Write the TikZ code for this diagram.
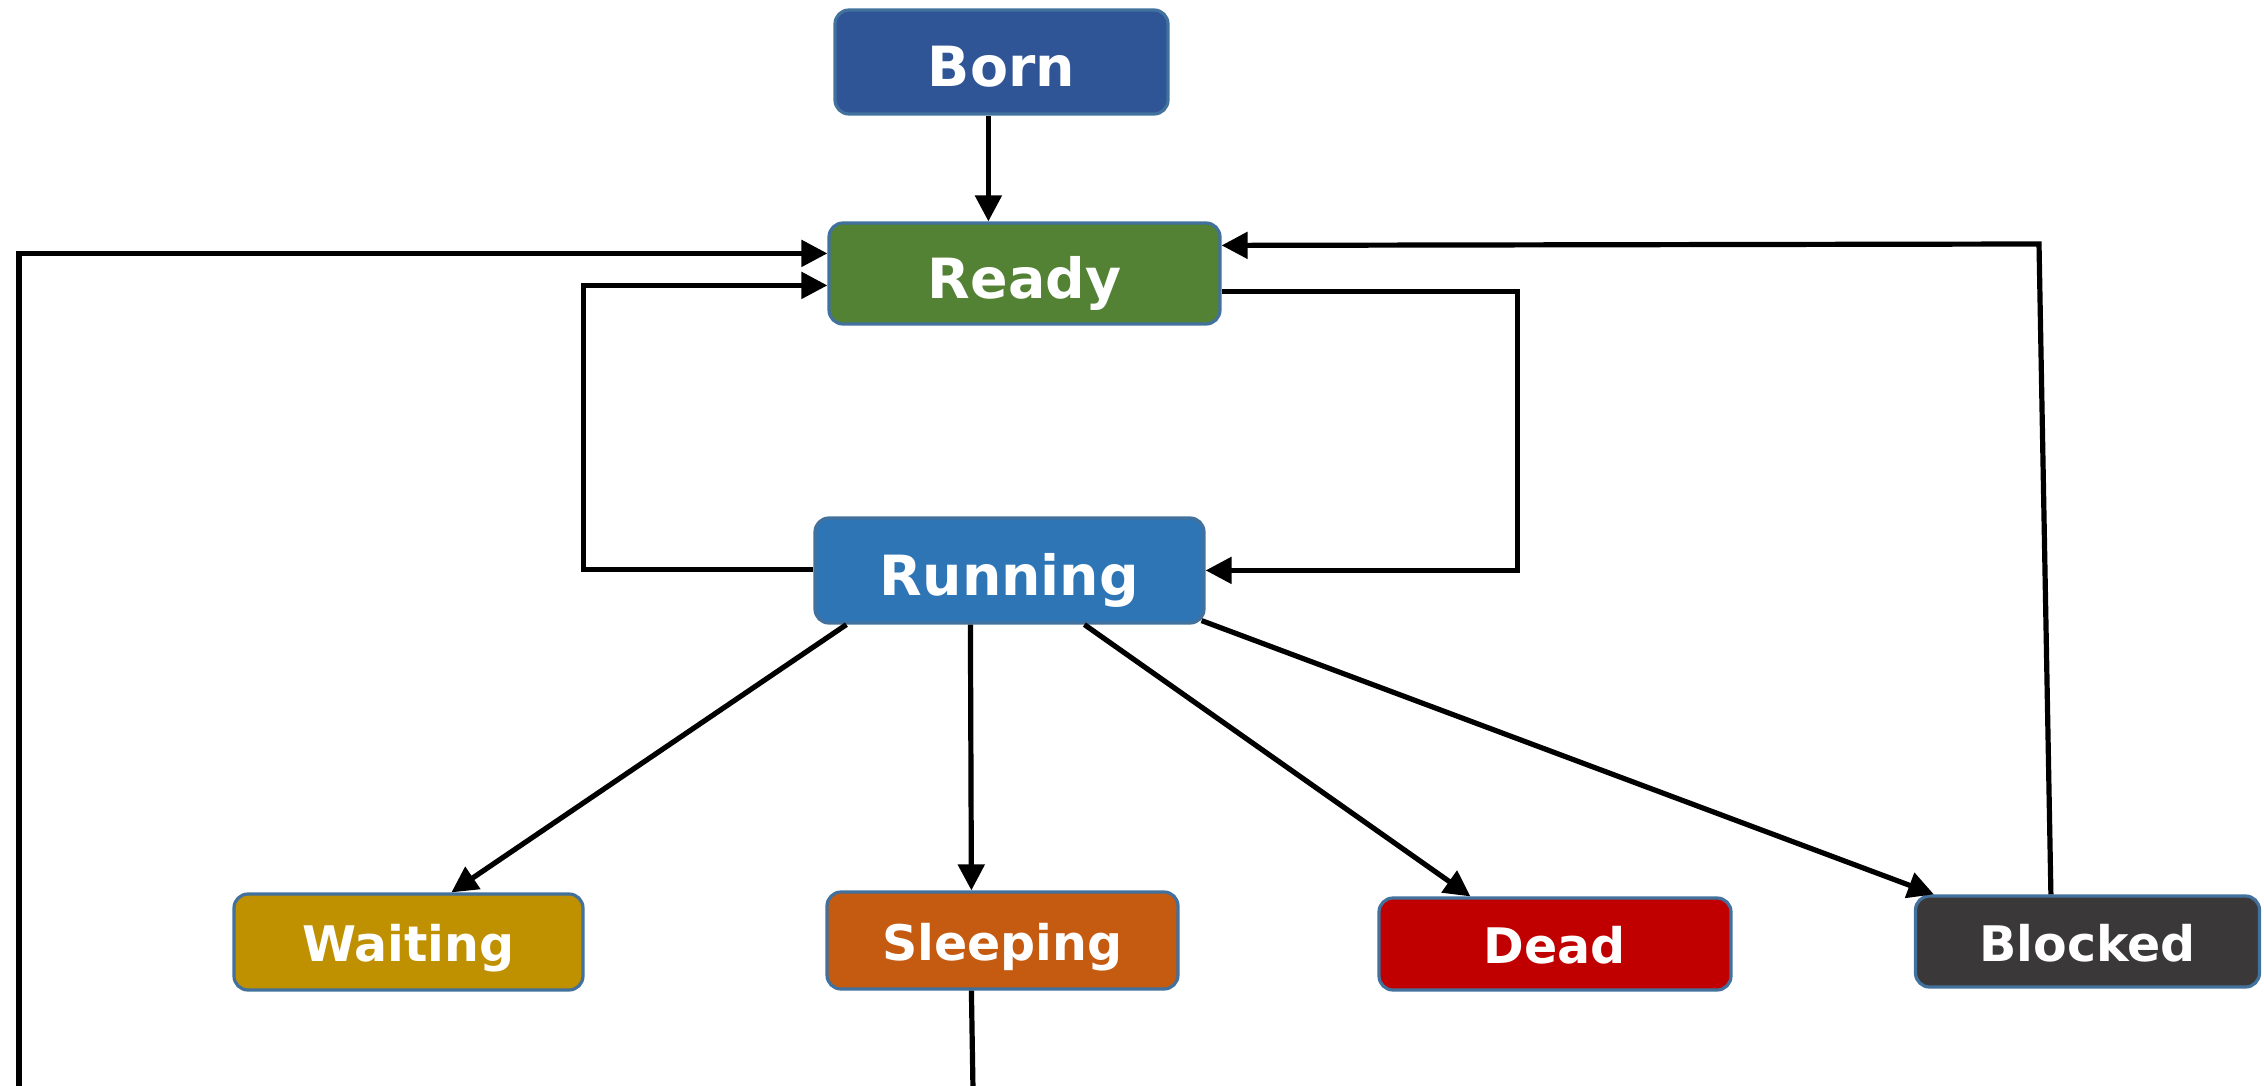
\documentclass[tikz,border=0pt]{standalone}
\usepackage{fontspec}
\setsansfont{DejaVu Sans}
\usetikzlibrary{arrows.meta,calc}

\definecolor{bornblue}{HTML}{2F5597}
\definecolor{readygreen}{HTML}{548235}
\definecolor{runblue}{HTML}{2E75B6}
\definecolor{waitgold}{HTML}{BF9000}
\definecolor{sleeporange}{HTML}{C55A11}
\definecolor{deadred}{HTML}{C00000}
\definecolor{blockgray}{HTML}{3A3838}
\definecolor{edgeblue}{HTML}{41719C}

\tikzset{
  statebox/.style={draw=edgeblue, line width=1.6pt, rounded corners=7pt,
    text=white, inner sep=0pt, align=center, text depth=0pt,
    font=\sffamily\bfseries},
  bigstate/.style={statebox, text height=25pt, font=\sffamily\bfseries\fontsize{27.7}{30}\selectfont},
  smallstate/.style={statebox, text height=19.5pt, font=\sffamily\bfseries\fontsize{24.5}{28}\selectfont},
  flow/.style={line width=2.6pt, black, -{Triangle[length=13pt,width=13pt]}},
  plainflow/.style={line width=2.6pt, black}
}

\begin{document}
\begin{tikzpicture}[x=0.5pt, y=-0.5pt]
  \useasboundingbox (0,0) rectangle (2264,1086);

  % states
  \node[bigstate, fill=bornblue, minimum width=166.5pt, minimum height=52pt]
    (born) at (1001.5,62) {Born};
  \node[bigstate, fill=readygreen, minimum width=195.5pt, minimum height=50.5pt]
    (ready) at (1024.5,273.5) {Ready};
  \node[bigstate, fill=runblue, minimum width=194.5pt, minimum height=52.5pt]
    (run) at (1009.5,570.5) {Running};
  \node[smallstate, fill=waitgold, minimum width=174.5pt, minimum height=48pt]
    (wait) at (408.5,942) {Waiting};
  \node[smallstate, fill=sleeporange, minimum width=175.5pt, minimum height=48.5pt]
    (sleep) at (1002.5,940.5) {Sleeping};
  \node[smallstate, fill=deadred, minimum width=176pt, minimum height=46pt]
    (dead) at (1555,944) {Dead};
  \node[smallstate, fill=blockgray, minimum width=172pt, minimum height=45.5pt]
    (block) at (2087.5,941.5) {Blocked};

  % free ends running off the lower edge
  \coordinate (leftfoot) at (19,1090);
  \coordinate (sleepfoot) at (973,1090);
  \coordinate (blockcorner) at (2039,244);

  % Born -> Ready
  \draw[flow] ($(born.south west)+(155,0)$) -- ($(ready.north west)+(161,0)$);

  % long return line from the bottom into Ready
  \draw[flow] (leftfoot) |- ($(ready.north west)+(0,32)$);
  \draw[plainflow] ($(sleep.south west)+(146,0)$) -- (sleepfoot);

  % Running -> Ready (left loop)
  \draw[flow] ($(run.north west)+(0,53)$) -| ($(ready.north west)+(-244,64)$)
    -- ($(ready.north west)+(0,64)$);

  % Ready -> Running (right loop)
  \draw[flow] ($(ready.north east)+(0,70)$) -| ($(run.north east)+(312,54)$)
    -- ($(run.north east)+(0,54)$);

  % Blocked -> Ready
  \draw[flow] ($(block.north west)+(137,0)$) -- (blockcorner) -- ($(ready.north east)+(0,24)$);

  % Running -> lower states
  \draw[flow] ($(run.south west)+(33,0)$) -- ($(wait.north west)+(219,0)$);
  \draw[flow] ($(run.south west)+(157,0)$) -- ($(sleep.north west)+(146,0)$);
  \draw[flow] ($(run.south west)+(271,0)$) -- ($(dead.north west)+(93,0)$);
  \draw[flow] ($(run.south east)+(-4,-4)$) -- ($(block.north west)+(20,0)$);
\end{tikzpicture}
\end{document}
